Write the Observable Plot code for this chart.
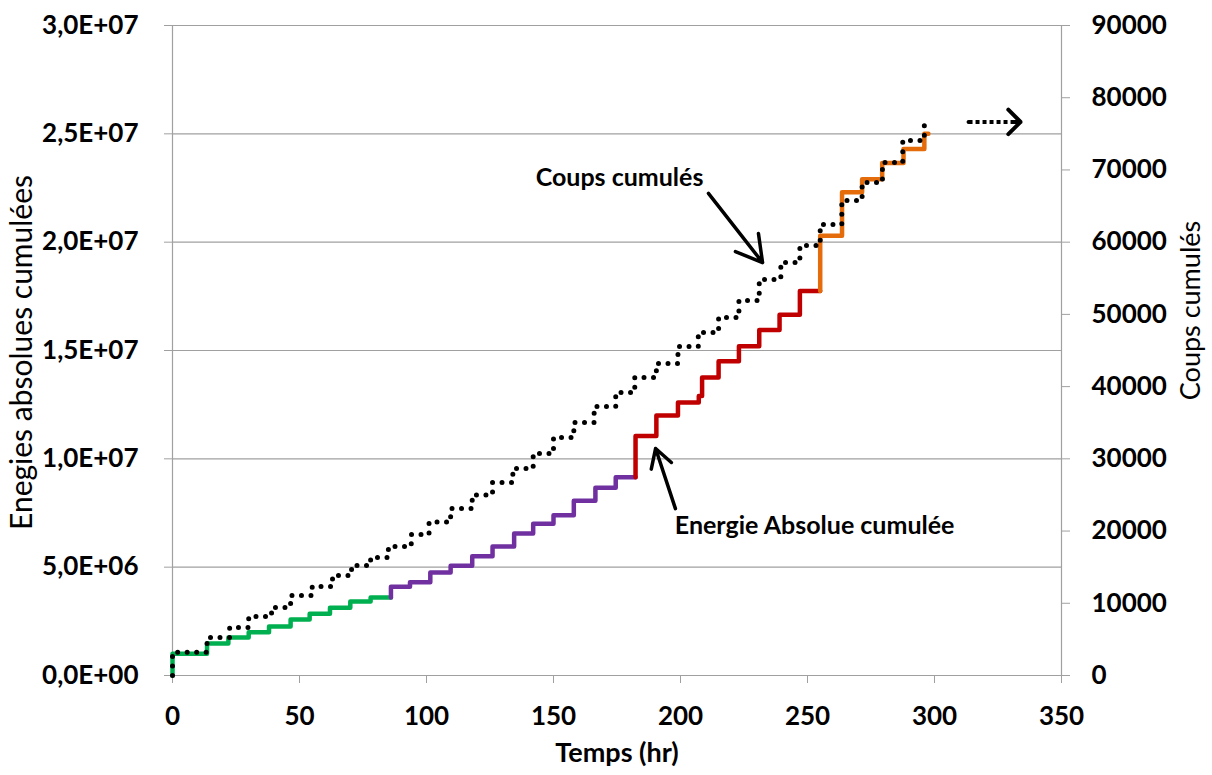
<!DOCTYPE html>
<html>
<head>
<meta charset="utf-8">
<script src="https://cdn.jsdelivr.net/npm/d3@7"></script>
<script src="https://cdn.jsdelivr.net/npm/@observablehq/plot@0.6"></script>
<style>
  html, body { margin: 0; padding: 0; background: #ffffff; }
  #chart { width: 1212px; height: 775px; }
</style>
</head>
<body>
<div id="chart"></div>
<script>
// ---- Energy (left axis), cumulative absolute energy, step series ----
const energyTimes = [0, 0, 13.6, 22, 30, 38, 46.5, 54, 62, 70, 78, 86, 93.5, 101.5, 109.5, 118, 126, 134.5, 142, 150, 158, 166.5, 174.5, 182.3, 190.5, 199, 207.2, 208.5, 215, 223, 231, 239, 247, 255, 263.6, 271.5, 279.4, 287.8, 296, 297.6];
const energyValues = [0, 1.0e6, 1.48e6, 1.75e6, 2.0e6, 2.26e6, 2.58e6, 2.85e6, 3.13e6, 3.42e6, 3.6e6, 4.1e6, 4.3e6, 4.75e6, 5.07e6, 5.5e6, 5.95e6, 6.55e6, 7.0e6, 7.4e6, 8.07e6, 8.67e6, 9.15e6, 11.05e6, 12.0e6, 12.6e6, 12.9e6, 13.75e6, 14.5e6, 15.2e6, 15.95e6, 16.65e6, 17.75e6, 20.3e6, 22.3e6, 22.9e6, 23.65e6, 24.3e6, 25.0e6, 25.0e6];
// phases of the energy curve (colour changes)
const phaseStarts = [0, 86, 182.3, 255];
const phaseColors = ["#00B050", "#7030A0", "#C00000", "#E46C0A"];

// ---- Cumulative counts (right axis), step series ----
const countTimes = [0, 0, 13.6, 22.5, 30, 39, 46.5, 55, 63, 70.5, 78, 85, 94, 101, 109.5, 118, 126, 134, 142, 150, 158, 166, 174.5, 182, 190.5, 199, 207, 215, 223, 231, 239.5, 247, 255, 263.5, 271.5, 279.5, 287.5, 296, 297.5];
const countValues = [0, 3230, 5260, 6650, 8170, 9420, 11080, 12320, 13850, 15230, 16340, 17860, 19520, 21250, 23120, 25000, 26720, 28660, 30740, 32950, 35030, 37250, 39180, 41260, 43200, 45550, 47490, 49570, 51920, 54830, 57180, 59540, 62450, 65770, 68260, 71030, 74080, 76290, 76290];

// ---- Axes ----
const xTicks = [0, 50, 100, 150, 200, 250, 300, 350];
const leftTicks = [0, 5e6, 1e7, 1.5e7, 2e7, 2.5e7, 3e7];
const rightTicks = [0, 10000, 20000, 30000, 40000, 50000, 60000, 70000, 80000, 90000];
const leftMax = 3e7, rightMax = 90000;
const ratio = leftMax / rightMax;

// ---- Annotations ----
const labelTexts = ["Coups cumulés", "Energie Absolue cumulée"];
const labelX = [176, 252.8];
const labelY = [22.94e6, 6.88e6];
const arrowX1 = [211, 198], arrowY1 = [22.25e6, 7.7e6];
const arrowX2 = [232.3, 190.2], arrowY2 = [19.06e6, 10.48e6];
const dotArrowX = [313.4, 333.9], dotArrowY = 25.55e6;

// ---- Build tables ----
const energyPts = energyTimes.map((t, i) => ({t, v: energyValues[i]}));
const energySegs = [];
phaseStarts.forEach((start, k) => {
  const end = k + 1 < phaseStarts.length ? phaseStarts[k + 1] : Infinity;
  const pts = [];
  if (k > 0) {
    const prev = energyPts.filter(d => d.t < start).slice(-1)[0];
    pts.push({t: start, v: prev.v});
  }
  energyPts.forEach(d => { if (d.t >= start && d.t < end) pts.push(d); });
  if (end !== Infinity) pts.push({t: end, v: pts[pts.length - 1].v});
  pts.forEach(d => energySegs.push({t: d.t, v: d.v, phase: k}));
});
const counts = countTimes.map((t, i) => ({t, c: countValues[i]}));

function fmtE(v) {
  if (v === 0) return "0,0E+00";
  const e = Math.floor(Math.log10(v) + 1e-9);
  const m = v / Math.pow(10, e);
  return m.toFixed(1).replace(".", ",") + "E+" + String(e).padStart(2, "0");
}

const gray = "#a0a0a0";
const FONT = "Lato, 'Open Sans', sans-serif";

const chart = Plot.plot({
  width: 1212,
  height: 775,
  marginLeft: 172,
  marginRight: 151,
  marginTop: 25,
  marginBottom: 100,
  x: {domain: [0, 350]},
  y: {domain: [0, leftMax]},
  color: {domain: [0, 1, 2, 3], range: phaseColors},
  style: {fontFamily: FONT, color: "black", background: "white", overflow: "visible"},
  marks: [
    Plot.ruleY(leftTicks, {stroke: gray, strokeWidth: 1.2}),
    Plot.ruleX([0, 350], {stroke: gray, strokeWidth: 1.2}),
    Plot.axisY(leftTicks, {anchor: "left", tickFormat: fmtE, tickSize: 8, tickPadding: 26, stroke: gray, fill: "black", fontSize: 26, fontWeight: "bold", label: null}),
    Plot.axisY(rightTicks.map(c => c * ratio), {anchor: "right", tickFormat: d => String(Math.round(d / ratio)), tickSize: 8, tickPadding: 22, stroke: gray, fill: "black", fontSize: 26, fontWeight: "bold", label: null}),
    Plot.axisX(xTicks, {anchor: "bottom", tickSize: 8, tickPadding: 23, stroke: gray, fill: "black", fontSize: 26, fontWeight: "bold", label: null}),
    // axis titles
    Plot.text(["Enegies absolues cumulées"], {frameAnchor: "left", textAnchor: "middle", dx: -150, dy: 2, rotate: -90, fontSize: 30, fill: "black"}),
    Plot.text(["Coups cumulés"], {frameAnchor: "right", textAnchor: "middle", dx: 130, dy: -40, rotate: -90, fontSize: 27, fill: "black"}),
    Plot.text(["Temps (hr)"], {frameAnchor: "bottom", dy: 86, fontSize: 27, fontWeight: "bold", fill: "black"}),
    // energy step line
    Plot.line(energySegs, {x: "t", y: "v", z: "phase", stroke: "phase", curve: "step-after", strokeWidth: 4.5, strokeLinejoin: "round"}),
    // counts dotted step line
    Plot.line(counts, {x: "t", y: d => d.c * ratio, curve: "step-after", stroke: "black", strokeWidth: 5, strokeDasharray: "0 9.5", strokeLinecap: "round"}),
    // annotation arrows
    Plot.arrow(arrowX1.map((x, i) => i), {x1: i => arrowX1[i], y1: i => arrowY1[i], x2: i => arrowX2[i], y2: i => arrowY2[i], stroke: "black", strokeWidth: 3.5, headLength: 16, headAngle: 60}),
    Plot.text(labelTexts, {x: (d, i) => labelX[i], y: (d, i) => labelY[i], text: d => d, fontSize: 25, fontWeight: "bold", fill: "black"}),
    // dotted arrow pointing to right axis: solid arrow, then white gaps over the shaft
    Plot.arrow([0], {x1: dotArrowX[0], x2: dotArrowX[1], y1: dotArrowY, y2: dotArrowY, stroke: "black", strokeWidth: 4, headLength: 17, headAngle: 90}),
    Plot.link([0], {x1: dotArrowX[0], x2: dotArrowX[1] - 3.5, y1: dotArrowY, y2: dotArrowY, stroke: "white", strokeWidth: 6, strokeDasharray: "0 4 3 0"})
  ]
});
document.getElementById("chart").appendChild(chart);
</script>
</body>
</html>
